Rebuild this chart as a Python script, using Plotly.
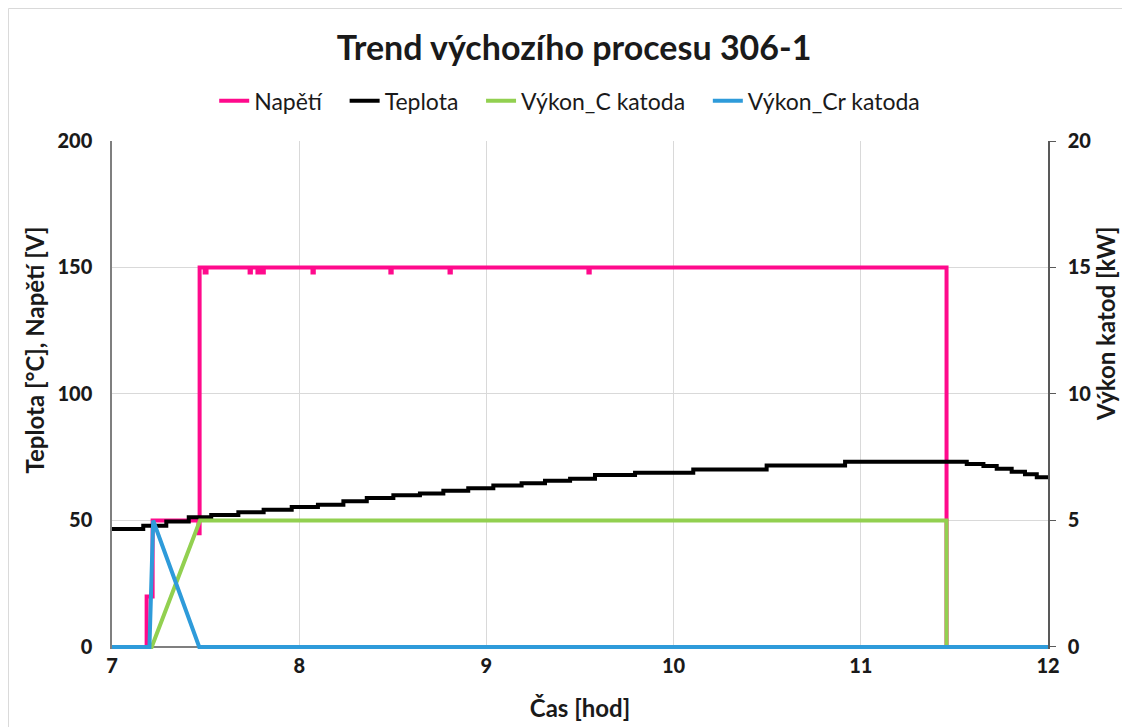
import plotly.graph_objects as go

# ---------------- data ----------------
# Napětí [V] (step: value holds until next time)
napeti_t = [7.0, 7.185, 7.217, 7.462, 7.468, 7.495, 7.505, 7.735, 7.742, 7.777, 7.784,
            7.804, 7.811, 8.071, 8.078, 8.487, 8.494, 8.803, 8.810, 9.545, 9.552,
            11.458, 12.0]
napeti_v = [0, 20, 50, 45, 150, 148, 150, 148, 150, 148, 150,
            148, 150, 148, 150, 148, 150, 148, 150, 148, 150,
            0, 0]

# Teplota [°C] (step)
teplota_t = [7.0, 7.167, 7.29, 7.41, 7.53, 7.675, 7.81, 7.96, 8.10, 8.236, 8.361,
             8.503, 8.645, 8.770, 8.903, 9.037, 9.188, 9.313, 9.447, 9.58, 9.794,
             10.105, 10.497, 10.916, 11.566, 11.655, 11.726, 11.806, 11.877, 11.94, 12.0]
teplota_v = [46.6, 47.9, 49.6, 51.3, 52.2, 53.3, 54.2, 55.3, 56.2, 57.6, 58.9,
             60.0, 60.7, 61.8, 62.7, 63.8, 64.7, 65.7, 66.5, 68.0, 68.9,
             70.2, 71.7, 73.2, 72.3, 71.5, 70.4, 69.3, 68.3, 67.1, 67.1]

# Výkon_C katoda [kW]
vykon_c_t = [7.0, 7.212, 7.47, 11.458, 11.458, 12.0]
vykon_c_v = [0, 0, 5, 5, 0, 0]

# Výkon_Cr katoda [kW]
vykon_cr_t = [7.0, 7.2, 7.22, 7.466, 12.0]
vykon_cr_v = [0, 0, 5, 0, 0]

x_ticks = [7, 8, 9, 10, 11, 12]
y_ticks = [0, 50, 100, 150, 200]
y2_ticks = [0, 5, 10, 15, 20]

FONT = "Lato"
TXT = "#1a1a1a"
PAD = "\u00a0\u00a0\u00a0"

fig = go.Figure()
fig.add_trace(go.Scatter(x=napeti_t, y=napeti_v, name="Napětí" + PAD, mode="lines",
                         line=dict(color="#FF0A8C", width=4, shape="hv")))
fig.add_trace(go.Scatter(x=teplota_t, y=teplota_v, name="Teplota" + PAD, mode="lines",
                         line=dict(color="#000000", width=4, shape="hv")))
fig.add_trace(go.Scatter(x=vykon_c_t, y=vykon_c_v, name="Výkon_C katoda" + PAD, mode="lines",
                         yaxis="y2", line=dict(color="#92D050", width=4)))
fig.add_trace(go.Scatter(x=vykon_cr_t, y=vykon_cr_v, name="Výkon_Cr katoda", mode="lines",
                         yaxis="y2", line=dict(color="#2E9BDA", width=4)))

fig.update_layout(
    width=1130, height=727,
    margin=dict(l=104, r=90, t=133, b=86),
    paper_bgcolor="white", plot_bgcolor="white",
    font=dict(family=FONT, color=TXT),
    title=dict(text="<b>Trend výchozího procesu 306-1</b>", x=0.501, xanchor="center",
               y=0.945, yanchor="middle", font=dict(size=34, color=TXT, family=FONT)),
    showlegend=True,
    legend=dict(orientation="h", x=0.489, xanchor="center", y=1.079, yanchor="middle",
                font=dict(size=23, color=TXT, family=FONT), itemwidth=30,
                bgcolor="rgba(0,0,0,0)", traceorder="normal"),
    xaxis=dict(range=[7, 12], tickvals=x_ticks, showgrid=True, gridcolor="#D9D9D9",
               gridwidth=1, showline=False, zeroline=False, ticks="",
               ticklabelstandoff=3,
               tickfont=dict(size=20, color=TXT, family=FONT + " Black"),
               title=dict(text="<b>Čas [hod]</b>", font=dict(size=24, color=TXT), standoff=24)),
    yaxis=dict(range=[-0.8, 200], tickvals=y_ticks, showgrid=True, gridcolor="#D9D9D9",
               gridwidth=1, showline=True, linecolor="#7F7F7F", linewidth=1.5,
               zeroline=True, zerolinecolor="#7F7F7F", zerolinewidth=1.5, ticks="",
               tickfont=dict(size=20, color=TXT, family=FONT + " Black"),
               ticklabelstandoff=14),
    yaxis2=dict(range=[-0.08, 20], tickvals=y2_ticks, overlaying="y", side="right",
                showgrid=False, showline=True, linecolor="#595959", linewidth=1.5,
                zeroline=False, ticks="outside", ticklen=6, tickcolor="#595959",
                ticklabelstandoff=8,
                tickfont=dict(size=20, color=TXT, family=FONT + " Black")),
    annotations=[
        dict(text="<b>Teplota [°C], Napětí [V]</b>", textangle=-90, showarrow=False,
             xref="paper", yref="paper", x=-0.0823, y=0.8366, xanchor="center", yanchor="top",
             font=dict(size=24, color=TXT, family=FONT)),
        dict(text="<b>Výkon katod [kW]</b>", textangle=-90, showarrow=False,
             xref="paper", yref="paper", x=1.0615, y=0.8366, xanchor="center", yanchor="top",
             font=dict(size=24, color=TXT, family=FONT)),
    ],
    shapes=[dict(type="rect", xref="paper", yref="paper",
                 x0=-0.1106, x1=1.2, y0=-0.3, y1=1.2608,
                 line=dict(color="#D9D9D9", width=1), fillcolor="rgba(0,0,0,0)", layer="below")],
)

fig.write_html("out.html")
